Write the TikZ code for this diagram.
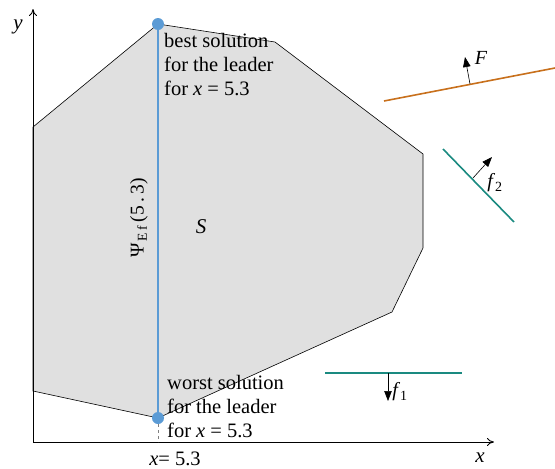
\documentclass[tikz,border=0pt]{standalone}
\usepackage{fontspec}
\setmainfont{Liberation Serif}
\usetikzlibrary{arrows.meta, positioning}
\definecolor{solblue}{HTML}{5B9BD5}
\definecolor{leaderorange}{HTML}{C8701C}
\definecolor{followerteal}{HTML}{1A8A80}
\definecolor{regiongray}{HTML}{E0E0E0}

\begin{document}
\begin{tikzpicture}[x=1pt, y=-1pt, every node/.style={align=left, inner sep=0pt},
  txt/.style={font=\fontsize{20.5}{24}\selectfont},
  axis/.style={line width=0.9pt, -{To[length=7pt, width=8pt]}},
  vec/.style={line width=0.6pt, -{Triangle[length=10pt, width=7.5pt]}},
  obj/.style={line width=1.6pt},
  dot/.style={circle, fill=solblue, minimum size=12pt}]
\useasboundingbox (0,0) rectangle (555,469);
% feasible region S
\fill[regiongray, draw=black, line width=0.6pt] (33,127) -- (158,24) -- (275,42) -- (423,154) -- (423,248) -- (392,312) -- (158,418) -- (33,391) -- cycle;
% axes
\coordinate (O) at (33,442);
\coordinate (xend) at (494,442);
\coordinate (yend) at (33,9);
\draw[axis] (O) -- (xend);
\draw[axis] (O) -- (yend);
\node[txt, font=\fontsize{21}{24}\selectfont\itshape] (xlab) at (480,458) {x};
\node[txt, font=\fontsize{21}{24}\selectfont\itshape] (ylab) at (18,27) {y};
% solutions for x = 5.3
\coordinate (best) at (158,24);
\coordinate (worst) at (158,418);
\coordinate (xtick) at (158,442);
\draw[gray, dashed, line width=0.6pt] (worst) -- (xtick);
\draw[solblue, line width=1.8pt] (best) -- (worst);
\node[dot] (bestdot) at (best) {};
\node[dot] (worstdot) at (worst) {};
\node[txt] (xval) at (175,459) {\textit{x}= 5.3};
\node[txt, anchor=north west] (bestlab) at (164,33) {best solution\\for the leader\\for \textit{x} = 5.3};
\node[txt, anchor=north west] (worstlab) at (167,375) {worst solution\\for the leader\\for \textit{x} = 5.3};
\node[txt, font=\fontsize{19.5}{22}\selectfont, rotate=90] (psilab) at (139,218) {Ψ\textsubscript{\,E\,f}\,(5\,.\,3)};
\node[txt, font=\fontsize{21}{24}\selectfont\itshape] (slab) at (201,227) {S};
% leader objective F
\coordinate (Fa) at (384,101);
\coordinate (Fb) at (555,68);
\coordinate (Fbase) at (470,84);
\coordinate (Ftip) at (465,57);
\draw[leaderorange, obj] (Fa) -- (Fb);
\draw[vec] (Fbase) -- (Ftip);
\node[txt, font=\fontsize{20}{22}\selectfont\itshape] (Flab) at (481,58) {F};
% follower objective f2
\coordinate (fta) at (443,149);
\coordinate (ftb) at (514,222);
\coordinate (ftbase) at (473,178);
\coordinate (fttip) at (492,157);
\draw[followerteal, obj] (fta) -- (ftb);
\draw[vec] (ftbase) -- (fttip);
\node[txt, font=\fontsize{20}{22}\selectfont] (ftlab) at (495,183) {\textit{f}\textsubscript{2}};
% follower objective f1
\coordinate (foa) at (325,373);
\coordinate (fob) at (462,373);
\coordinate (fobase) at (388,373);
\coordinate (fotip) at (388,401);
\draw[followerteal, obj] (foa) -- (fob);
\draw[vec] (fobase) -- (fotip);
\node[txt, font=\fontsize{20}{22}\selectfont] (folab) at (400,392) {\textit{f}\textsubscript{1}};
\end{tikzpicture}
\end{document}
